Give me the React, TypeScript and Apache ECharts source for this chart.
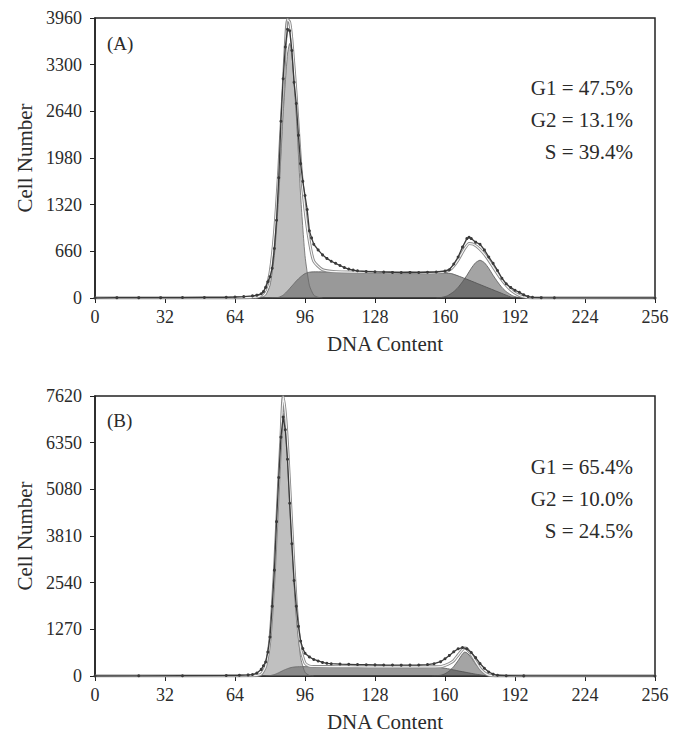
import React, { useEffect, useRef } from "react";
import * as echarts from "echarts";

// ---------- axes ----------
const xTicks = [0, 32, 64, 96, 128, 160, 192, 224, 256];
const yMaxA = 3960;
const yStepA = 660;
const yMaxB = 7620;
const yStepB = 1270;

// ---------- Panel A data (channel, cell count) ----------
const rawA: [number, number][] = [
  [0, 0], [10, 5], [20, 5], [30, 5], [40, 6], [50, 8], [60, 10], [64, 14], [68, 20], [72, 30], [74, 40], [76, 60],
  [77, 90], [78, 150], [79, 230], [80, 300], [81, 420], [82, 700], [83, 1100], [84, 1700], [85, 2500], [86, 3100],
  [87, 3550], [88, 3800], [89, 3780], [90, 3500], [91, 3050], [92, 2750], [93, 2300], [94, 1900], [95, 1650],
  [96, 1450], [97, 1250], [98, 950], [99, 850], [100, 760], [102, 680], [104, 610], [106, 560], [108, 520],
  [110, 490], [112, 460], [114, 430], [116, 410], [118, 395], [120, 385], [124, 375], [128, 370], [132, 366],
  [136, 362], [140, 360], [144, 362], [148, 360], [152, 364], [156, 368], [160, 380], [162, 400], [164, 480],
  [166, 580], [168, 720], [170, 840], [171, 860], [172, 840], [174, 790], [176, 760], [178, 680], [180, 580],
  [182, 490], [184, 390], [186, 280], [188, 200], [190, 150], [192, 110], [194, 80], [196, 45], [198, 20],
  [200, 10], [204, 5], [210, 3], [256, 0],
];
const g1A: [number, number][] = [
  [74, 0], [76, 10], [78, 40], [80, 180], [82, 600], [84, 1450], [86, 2600], [88, 3450], [89, 3600], [90, 3450],
  [92, 2600], [94, 1450], [96, 600], [98, 180], [100, 40], [102, 10], [104, 0],
];
const sA: [number, number][] = [
  [80, 0], [82, 3], [84, 10], [86, 40], [88, 100], [90, 170], [92, 240], [94, 300], [96, 345], [98, 365],
  [100, 370], [110, 368], [120, 365], [130, 362], [140, 358], [150, 355], [160, 350], [163, 345], [170, 265],
  [180, 140], [186, 65], [190, 15], [192, 0],
];
const g2A: [number, number][] = [
  [156, 0], [158, 5], [161, 30], [164, 90], [166, 150], [168, 230], [170, 320], [172, 420], [174, 500],
  [176, 534], [178, 500], [180, 420], [182, 320], [184, 230], [186, 150], [188, 90], [191, 30], [194, 5], [196, 0],
];
const fitA: [number, number][] = [
  [0, 0], [60, 0], [70, 5], [74, 15], [76, 40], [78, 120], [80, 350], [82, 900], [84, 1800], [86, 2950],
  [88, 3940], [89, 3900], [90, 3650], [92, 2850], [94, 1900], [96, 1250], [98, 800], [100, 520], [104, 400],
  [110, 372], [120, 366], [130, 362], [140, 358], [150, 356], [160, 370], [163, 420], [166, 540], [169, 700],
  [171, 770], [173, 760], [176, 690], [179, 580], [182, 440], [185, 300], [188, 180], [191, 90], [194, 35],
  [197, 10], [200, 0], [256, 0],
];

// ---------- Panel B data ----------
const rawB: [number, number][] = [
  [0, 0], [20, 5], [40, 8], [60, 15], [66, 20], [70, 30], [72, 40], [74, 80], [76, 180], [77, 280], [78, 380],
  [79, 650], [80, 1060], [81, 1900], [82, 2880], [83, 4200], [84, 5400], [85, 6500], [86, 7050], [87, 6700],
  [88, 5900], [89, 4700], [90, 3600], [91, 2600], [92, 1900], [93, 1350], [94, 950], [95, 750], [96, 620],
  [98, 520], [100, 450], [102, 410], [104, 370], [106, 345], [108, 335], [112, 325], [116, 318], [120, 312],
  [124, 308], [128, 303], [132, 300], [136, 298], [140, 295], [144, 296], [148, 300], [152, 310], [155, 335],
  [158, 390], [160, 470], [162, 560], [164, 660], [166, 740], [168, 775], [170, 740], [172, 640], [174, 500],
  [176, 340], [178, 210], [180, 110], [182, 50], [184, 20], [188, 8], [196, 3], [256, 0],
];
const g1B: [number, number][] = [
  [74, 0], [76, 40], [78, 250], [80, 1000], [82, 2800], [84, 5200], [85, 6300], [86, 7150], [87, 6900],
  [88, 6100], [90, 3800], [92, 1700], [94, 500], [96, 100], [98, 15], [100, 0],
];
const sB: [number, number][] = [
  [78, 0], [80, 10], [82, 40], [84, 90], [86, 150], [88, 200], [90, 235], [92, 250], [95, 255], [100, 255],
  [110, 255], [120, 252], [130, 250], [140, 248], [150, 248], [155, 245], [158, 230], [162, 190], [166, 140],
  [170, 95], [174, 50], [178, 15], [180, 0],
];
const g2B: [number, number][] = [
  [154, 0], [156, 5], [158, 20], [160, 60], [162, 140], [164, 260], [166, 420], [168, 600], [169, 650],
  [170, 630], [172, 500], [174, 330], [176, 180], [178, 75], [180, 25], [182, 6], [184, 0],
];
const fitB: [number, number][] = [
  [0, 0], [60, 0], [70, 5], [74, 15], [76, 50], [78, 260], [80, 1010], [82, 2840], [84, 5300], [85, 6480],
  [86, 7600], [87, 7150], [88, 6300], [90, 4035], [92, 1950], [94, 750], [96, 350], [98, 270], [100, 258],
  [110, 255], [120, 252], [130, 250], [140, 248], [150, 248], [155, 250], [158, 255], [160, 290], [162, 340],
  [164, 420], [166, 570], [168, 720], [169, 760], [170, 740], [172, 590], [174, 390], [176, 210], [178, 90],
  [180, 25], [182, 6], [184, 0], [256, 0],
];

const statsA = ["G1 = 47.5%", "G2 = 13.1%", "S = 39.4%"];
const statsB = ["G1 = 65.4%", "G2 = 10.0%", "S = 24.5%"];
const panelLabels = ["(A)", "(B)"];

const FONT = '"Liberation Serif", "Times New Roman", serif';
const TEXT = "#2b2b2b";

function panelSeries(idx: number, raw: any, g1: any, s: any, g2: any, fit: any) {
  const base = { type: "line", xAxisIndex: idx, yAxisIndex: idx, showSymbol: false, smooth: 0.2, silent: true };
  return [
    { ...base, name: "S", data: s, z: 2, lineStyle: { color: "#555", width: 0.8 }, areaStyle: { color: "#555555", opacity: 0.6 } },
    { ...base, name: "G1", data: g1, z: 3, lineStyle: { color: "#666", width: 0.8 }, areaStyle: { color: "#7a7a7a", opacity: 0.47 } },
    { ...base, name: "G2", data: g2, z: 4, lineStyle: { color: "#555", width: 0.8 }, areaStyle: { color: "#4a4a4a", opacity: 0.5 } },
    { ...base, name: "fitEdge", data: fit, z: 5, lineStyle: { color: "#8a8a8a", width: 3 } },
    { ...base, name: "fit", data: fit, z: 6, lineStyle: { color: "#f4f4f4", width: 1.2 } },
    {
      type: "line", xAxisIndex: idx, yAxisIndex: idx, name: "raw", data: raw, z: 7, silent: true,
      showSymbol: true, symbol: "circle", symbolSize: 3,
      itemStyle: { color: "#3a3a3a" }, lineStyle: { color: "#3a3a3a", width: 1.3 },
    },
  ];
}

function xAxisCfg(idx: number) {
  return {
    type: "value", gridIndex: idx, min: xTicks[0], max: xTicks[xTicks.length - 1], interval: xTicks[1] - xTicks[0],
    name: "DNA Content", nameLocation: "middle", nameGap: 35,
    nameTextStyle: { fontFamily: FONT, fontSize: 21, color: TEXT, padding: [0, 0, 0, 20] },
    axisLine: { show: true, lineStyle: { color: "#222", width: 1.5 } },
    axisTick: { show: true, inside: false, length: 5, lineStyle: { color: "#222" } },
    axisLabel: { fontFamily: FONT, fontSize: 18, color: TEXT, margin: 10, formatter: (v: number) => String(v) },
    splitLine: { show: false },
  };
}
function yAxisCfg(idx: number, max: number, step: number) {
  return {
    type: "value", gridIndex: idx, min: 0, max, interval: step,
    name: "Cell Number", nameLocation: "middle", nameGap: 60, nameRotate: 90,
    nameTextStyle: { fontFamily: FONT, fontSize: 21, color: TEXT },
    axisLine: { show: true, lineStyle: { color: "#222", width: 1.5 } },
    axisTick: { show: true, inside: false, length: 5, lineStyle: { color: "#222" } },
    axisLabel: { fontFamily: FONT, fontSize: 18, color: TEXT, margin: 13, formatter: (v: number) => String(v) },
    splitLine: { show: false },
  };
}

function statTexts(lines: string[], top: number) {
  return lines.map((t, i) => ({
    type: "text", right: 56, top: top + i * 32,
    style: { text: t, fontFamily: FONT, fontSize: 21, fill: TEXT },
  }));
}

export default function App() {
  const ref = useRef<HTMLDivElement>(null);
  useEffect(() => {
    if (!ref.current) return;
    const chart = echarts.init(ref.current, null, { renderer: "svg" });
    chart.setOption({
      animation: false,
      backgroundColor: "#ffffff",
      grid: [
        { left: 95, top: 18, width: 560, height: 280, show: true, borderColor: "#222", borderWidth: 1.5, backgroundColor: "transparent" },
        { left: 95, top: 396, width: 560, height: 280, show: true, borderColor: "#222", borderWidth: 1.5, backgroundColor: "transparent" },
      ],
      xAxis: [xAxisCfg(0), xAxisCfg(1)],
      yAxis: [yAxisCfg(0, yMaxA, yStepA), yAxisCfg(1, yMaxB, yStepB)],
      series: [
        ...panelSeries(0, rawA, g1A, sA, g2A, fitA),
        ...panelSeries(1, rawB, g1B, sB, g2B, fitB),
      ],
      graphic: [
        { type: "text", left: 107, top: 34, style: { text: panelLabels[0], fontFamily: FONT, fontSize: 19, fill: TEXT } },
        { type: "text", left: 107, top: 411, style: { text: panelLabels[1], fontFamily: FONT, fontSize: 19, fill: TEXT } },
        ...statTexts(statsA, 77),
        ...statTexts(statsB, 456),
      ],
    });
    return () => chart.dispose();
  }, []);
  return <div ref={ref} style={{ position: "absolute", left: 0, top: 0, width: 689, height: 737 }} />;
}
